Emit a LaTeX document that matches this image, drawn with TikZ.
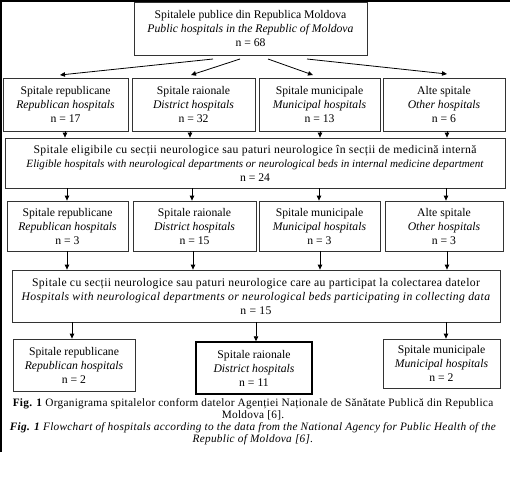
\documentclass[tikz,border=0pt]{standalone}
\usepackage{fontspec}
\setmainfont{Liberation Serif}
\usetikzlibrary{arrows.meta,calc}
\begin{document}
\begin{tikzpicture}[x=1pt,y=-1pt,
  box/.style={draw=black!80,line width=0.8pt,inner sep=0pt,align=center,
    font=\fontsize{11.7}{14}\selectfont},
  widebox/.style={box,font=\fontsize{11.7}{14}\selectfont\addfontfeature{LetterSpace=3}},
  arr/.style={-{Triangle[length=5pt,width=4.5pt]},line width=0.8pt},
  frameline/.style={line width=1.6pt}]
\useasboundingbox (0,0) rectangle (512,480);
% frame
\coordinate (f1) at (1,452);
\coordinate (f2) at (1,1);
\coordinate (f3) at (510,1);
\draw[frameline] (f1) -- (f2) -- (f3);
% top
\node[box,minimum width=233,minimum height=53] (top) at (250.5,28.5)
  {Spitalele publice din Republica Moldova\\ \textit{Public hospitals in the Republic of Moldova}\\ n = 68};
% row 1
\node[box,minimum width=125,minimum height=53] (a1) at (65.5,104.5)
  {Spitale republicane\\ \textit{Republican hospitals}\\ n = 17};
\node[box,minimum width=123,minimum height=53] (a2) at (193.5,104.5)
  {Spitale raionale\\ \textit{District hospitals}\\ n = 32};
\node[box,minimum width=121,minimum height=53] (a3) at (319.5,104.5)
  {Spitale municipale\\ \textit{Municipal hospitals}\\ n = 13};
\node[box,minimum width=122,minimum height=53] (a4) at (444,104.5)
  {Alte spitale\\ \textit{Other hospitals}\\ n = 6};
% box 2
\node[box,minimum width=500,minimum height=50] (b) at (255,163)
  {{\addfontfeature{LetterSpace=3}Spitale eligibile cu secții neurologice sau paturi neurologice în secții de medicină internă}\\ {\fontsize{11.1}{14}\selectfont\itshape Eligible hospitals with neurological departments or neurological beds in internal medicine department}\\ n = 24};
% row 2
\node[box,minimum width=121,minimum height=50] (c1) at (67.5,226)
  {Spitale republicane\\ \textit{Republican hospitals}\\ n = 3};
\node[box,minimum width=123,minimum height=50] (c2) at (194.5,226)
  {Spitale raionale\\ \textit{District hospitals}\\ n = 15};
\node[box,minimum width=121,minimum height=50] (c3) at (319.5,226)
  {Spitale municipale\\ \textit{Municipal hospitals}\\ n = 3};
\node[box,minimum width=118,minimum height=50] (c4) at (444,226)
  {Alte spitale\\ \textit{Other hospitals}\\ n = 3};
% box 3
\node[widebox,minimum width=488,minimum height=52] (d) at (256,296)
  {Spitale cu secții neurologice sau paturi neurologice care au participat la colectarea datelor\\ \textit{Hospitals with neurological departments or neurological beds participating in collecting data}\\ n = 15};
% row 3
\node[box,minimum width=122,minimum height=52] (e1) at (74,365)
  {Spitale republicane\\ \textit{Republican hospitals}\\ n = 2};
\node[box,draw=black,line width=1.5pt,minimum width=116,minimum height=52] (e2) at (254,368)
  {Spitale raionale\\ \textit{District hospitals}\\ n = 11};
\node[box,minimum width=117,minimum height=49] (e3) at (441.5,363.5)
  {Spitale municipale\\ \textit{Municipal hospitals}\\ n = 2};
% caption
\node[align=center,inner sep=0pt,font=\fontsize{11.3}{12}\selectfont\addfontfeature{LetterSpace=2.5}] (cap) at (253,422)
  {\textbf{Fig. 1} Organigrama spitalelor conform datelor Agenției Naționale de Sănătate Publică din Republica\\
   Moldova [6].\\
   \textbf{\textit{Fig. 1}} \textit{Flowchart of hospitals according to the data from the National Agency for Public Health of the}\\
   \textit{Republic of Moldova [6].}};
% arrows top -> row1
\coordinate (s1) at (213,59);
\coordinate (s2) at (240,59);
\coordinate (s3) at (268,59);
\coordinate (s4) at (307,59);
\coordinate (t1) at (60,75);
\coordinate (t2) at (191,75);
\coordinate (t3) at (313,75);
\coordinate (t4) at (447,74);
\draw[arr] (s1) -- (t1);
\draw[arr] (s2) -- (t2);
\draw[arr] (s3) -- (t3);
\draw[arr] (s4) -- (t4);
% row1 -> b
\foreach \n/\x in {a1/65,a2/190,a3/320,a4/447}
  \draw[arr] (\x,0 |- \n.south) -- (\x,0 |- b.north);
% b -> row2
\foreach \n/\x in {c1/67,c2/192,c3/319,c4/446}
  \draw[arr] (\x,0 |- b.south) -- (\x,0 |- \n.north);
% row2 -> d
\foreach \n/\x in {c1/67,c2/193,c3/320,c4/447}
  \draw[arr] (\x,0 |- \n.south) -- (\x,0 |- d.north);
% d -> row3
\foreach \n/\x in {e1/72,e2/256,e3/446}
  \draw[arr] (\x,0 |- d.south) -- (\x,0 |- \n.north);
\end{tikzpicture}
\end{document}
